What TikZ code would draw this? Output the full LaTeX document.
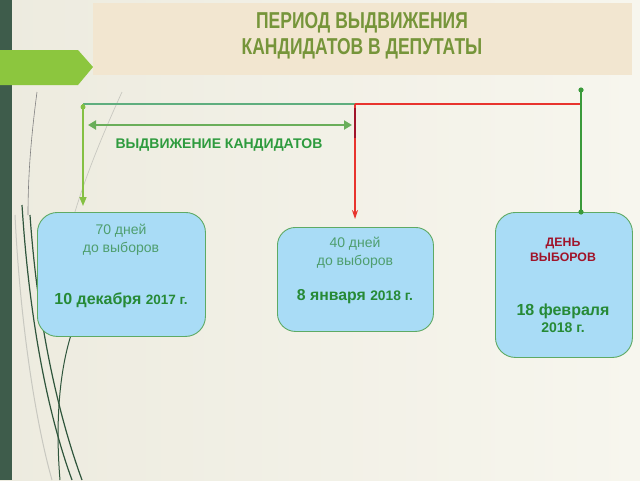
\documentclass[tikz,border=0pt]{standalone}
\usepackage{fontspec}
\setmainfont{Liberation Sans}
\usetikzlibrary{arrows.meta,calc}
\definecolor{bgA}{HTML}{EDEBDF}
\definecolor{bgB}{HTML}{F7F6EE}
\definecolor{strip}{HTML}{3E5C4B}
\definecolor{tabgreen}{HTML}{8CC63E}
\definecolor{titlebg}{HTML}{F2E6D0}
\definecolor{titletxt}{HTML}{76953A}
\definecolor{lineteal}{HTML}{5FAE7E}
\definecolor{linered}{HTML}{E8342E}
\definecolor{darkred}{HTML}{A0142A}
\definecolor{arrlight}{HTML}{84C043}
\definecolor{dgreen}{HTML}{3A9A3A}
\definecolor{dblarr}{HTML}{6AAE5A}
\definecolor{lbl}{HTML}{2E9B3E}
\definecolor{boxfill}{HTML}{A9DCF6}
\definecolor{boxedge}{HTML}{5EAA64}
\definecolor{softtxt}{HTML}{4E9E6E}
\definecolor{strongtxt}{HTML}{268A36}
\definecolor{deco}{HTML}{2F553C}
\definecolor{decolight}{HTML}{C8C8C0}
\tikzset{
  datebox/.style={draw=boxedge, line width=0.9pt, fill=boxfill, rounded corners=20pt, inner sep=0pt},
  soft/.style={text=softtxt, font=\fontsize{14}{17}\selectfont},
  strong/.style={text=strongtxt, font=\bfseries\fontsize{16}{19}\selectfont},
}
\begin{document}
\begin{tikzpicture}[x=1pt,y=-1pt]
\useasboundingbox (0,0) rectangle (640,480);
% background
\shade[left color=bgA, right color=bgB] (0,0) rectangle (640,480);
\fill[strip] (0,0) rectangle (12,480);
% decorative grass lines
\draw[decolight, line width=0.7pt] (122,92) .. controls (100,140) and (80,190) .. (70,230);
\draw[gray, line width=0.6pt] (37,92) .. controls (32,130) and (28,170) .. (28,215);
\draw[decolight, line width=1pt] (15,215) .. controls (20,320) and (35,420) .. (52,480);
\draw[deco, line width=1.2pt] (22,205) .. controls (30,330) and (50,420) .. (72,480);
\draw[deco, line width=1.2pt] (30,215) .. controls (38,330) and (60,420) .. (82,480);
\draw[deco, line width=1pt] (71,335) .. controls (60,370) and (55,420) .. (60,480);
% tab
\fill[tabgreen] (0,50) -- (78,50) -- (93,67) -- (78,85) -- (0,85) -- cycle;
% title
\node[fill=titlebg, minimum width=539pt, minimum height=72pt, anchor=north west, inner sep=0pt] (title) at (93,3) {};
\node[text=titletxt, align=center, font=\bfseries\fontsize{23}{26}\selectfont] (ttext) at (362,36)
  {\scalebox{0.76}[1]{ПЕРИОД ВЫДВИЖЕНИЯ}\\\scalebox{0.76}[1]{КАНДИДАТОВ В ДЕПУТАТЫ}};
% boxes
\node[datebox, minimum width=168pt, minimum height=124pt, anchor=north west] (b1) at (37,212) {};
\node[datebox, rounded corners=18pt, minimum width=156pt, minimum height=104pt, anchor=north west] (b2) at (277,227) {};
\node[datebox, minimum width=137pt, minimum height=145pt, anchor=north west] (b3) at (495,212) {};
% box texts
\node[soft] (b1a) at (121,231) {70 дней};
\node[soft] (b1b) at (121,249) {до выборов};
\node[strong] (b1c) at (121,300) {10 декабря {\fontsize{13.5}{16}\selectfont 2017 г.}};
\node[soft] (b2a) at (355,244) {40 дней};
\node[soft] (b2b) at (355,262) {до выборов};
\node[strong, font=\bfseries\fontsize{15.8}{19}\selectfont] (b2c) at (355,297) {8 января {\fontsize{13.8}{16}\selectfont 2018 г.}};
\node[text=darkred, font=\bfseries\fontsize{12.3}{14.5}\selectfont, align=center] (b3a) at (563,250) {ДЕНЬ\\ВЫБОРОВ};
\node[strong] (b3b) at (563,311) {18 февраля};
\node[strong, font=\bfseries\fontsize{14}{17}\selectfont] (b3c) at (563,328) {2018 г.};
% timeline
\coordinate (t1) at (83,104);
\coordinate (t2) at (355,104);
\coordinate (t3) at (581,104);
\coordinate (t3top) at (581,90);
\draw[lineteal, line width=1.6pt] (t1) -- (t2);
\draw[linered, line width=1.6pt] (t2) -- (t3);
\draw[arrlight, line width=1.5pt, -{Triangle[length=9pt,width=7pt]}, shorten >=6pt] (t1) -- (t1 |- b1.north);
\fill[arrlight] (83,107) circle (2.5pt);
\draw[linered, line width=1.3pt, -{Stealth[length=9pt,width=6pt]}, shorten >=8pt] (t2) -- (t2 |- b2.north);
\draw[darkred, line width=2.2pt] (355,108) -- (355,138);
\draw[dgreen, line width=1.3pt] (t3top) -- (t3 |- b3.north);
\fill[dgreen] (t3top) circle (2.6pt);
\fill[dgreen] (t3 |- b3.north) circle (2.6pt);
% double arrow
\coordinate (d1) at (88,125);
\coordinate (d2) at (352,125);
\draw[dblarr, line width=2.6pt, {Triangle[length=8pt,width=9pt]}-{Triangle[length=8pt,width=9pt]}] (d1) -- (d2);
\node[text=lbl, font=\bfseries\fontsize{14}{17}\selectfont] (lab) at (219,145) {ВЫДВИЖЕНИЕ КАНДИДАТОВ};
\end{tikzpicture}
\end{document}
